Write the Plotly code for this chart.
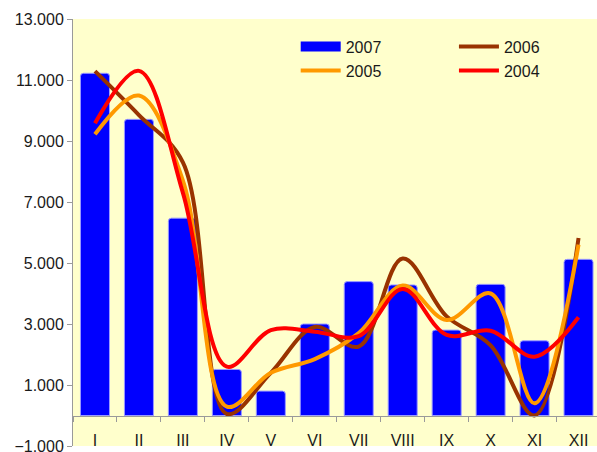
import plotly.graph_objects as go

months = ["I", "II", "III", "IV", "V", "VI", "VII", "VIII", "IX", "X", "XI", "XII"]
sales_2007 = [11220, 9710, 6470, 1510, 800, 3000, 4390, 4280, 2800, 4300, 2450, 5120]
sales_2006 = [11290, 9850, 8300, 50, 1400, 2900, 2260, 5150, 3250, 2300, 0, 5820]
sales_2005 = [9220, 10490, 7700, 290, 1400, 1850, 2700, 4260, 3130, 4000, 400, 5600]
sales_2004 = [9580, 11300, 7300, 1600, 2800, 2750, 2600, 4150, 2640, 2780, 1930, 3220]
y_ticks = list(range(-1000, 13001, 2000))

FONT = "Liberation Sans, Arial, sans-serif"
BAR_BLUE = "#0000FF"

fig = go.Figure()

fig.add_trace(go.Bar(
    x=months, y=sales_2007, name="2007",
    marker=dict(color=BAR_BLUE, line=dict(color="#9a9aff", width=1)),
    width=0.66, showlegend=False,
))

# wide blue swatch for the 2007 legend entry
fig.add_trace(go.Scatter(
    x=[None], y=[None], name="2007", mode="lines",
    line=dict(color=BAR_BLUE, width=15), legend="legend",
))

line_series = [
    ("2006", sales_2006, "#993300", "legend2"),
    ("2005", sales_2005, "#FF9900", "legend"),
    ("2004", sales_2004, "#FF0000", "legend2"),
]
for name, vals, color, leg in line_series:
    fig.add_trace(go.Scatter(
        x=months, y=vals, name=name, mode="lines",
        line=dict(color=color, width=4, shape="spline", smoothing=1.0),
        legend=leg,
    ))

legend_style = dict(
    y=0.975, xanchor="left", yanchor="top",
    bgcolor="rgba(0,0,0,0)", font=dict(family=FONT, size=16, color="#1a1a1a"),
    tracegroupgap=0, itemwidth=40, traceorder="normal",
)

fig.update_layout(
    width=597, height=452,
    margin=dict(l=73, r=0, t=19, b=6, autoexpand=False),
    paper_bgcolor="white",
    plot_bgcolor="#FFFFCC",
    separators=",.",
    font=dict(family=FONT, size=16, color="#1a1a1a"),
    barcornerradius=3,
    legend=dict(x=0.425, **legend_style),
    legend2=dict(x=0.727, **legend_style),
    xaxis=dict(
        type="category",
        range=[-0.5, 11.42],
        anchor="free", position=1 / 14,
        showline=True, linecolor="#9a9a9a", linewidth=1,
        ticks="outside", tickson="boundaries", ticklen=5, tickcolor="#9a9a9a",
        ticklabelstandoff=10,
        showgrid=False, zeroline=False, automargin=False,
        tickfont=dict(family=FONT, size=16),
    ),
    yaxis=dict(
        range=[-1000, 13000],
        tickvals=y_ticks, tickformat=",.0f",
        showline=True, linecolor="#9a9a9a", linewidth=1,
        ticks="outside", ticklen=5, tickcolor="#9a9a9a",
        ticklabeloverflow="allow",
        showgrid=False, zeroline=False, automargin=False,
        tickfont=dict(family=FONT, size=16),
    ),
)

fig.write_html("out.html")
